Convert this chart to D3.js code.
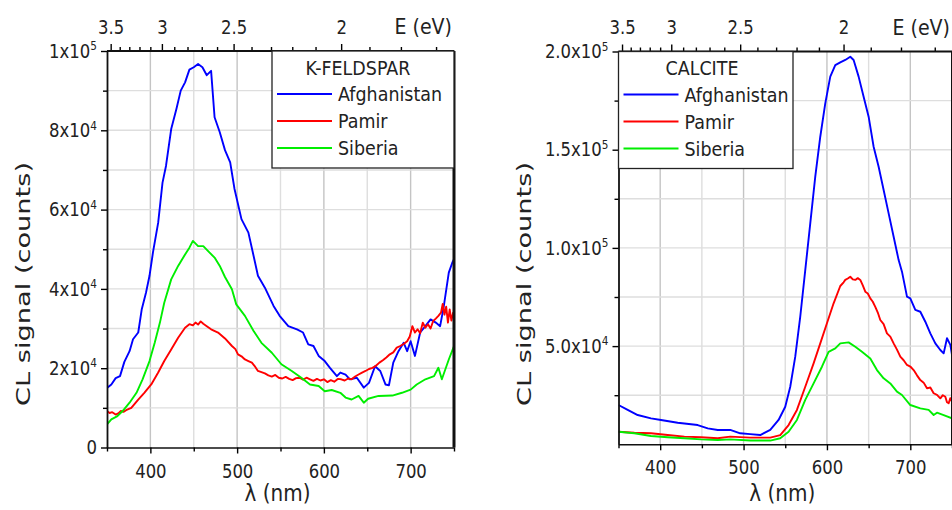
<!DOCTYPE html>
<html><head><meta charset="utf-8">
<script src="https://cdn.jsdelivr.net/npm/d3@7"></script>
<style>
html,body{margin:0;padding:0;background:#fff;}
svg{display:block;}
text{font-family:"DejaVu Sans",Verdana,sans-serif;fill:#222;}
</style></head><body>
<svg id="chart" width="952" height="510"></svg>
<script>
// ---------- data (wavelength nm, CL signal in 10^3 counts) ----------
const seriesNames = ["Afghanistan", "Pamir", "Siberia"];
const seriesColors = ["#0000ff", "#ff0000", "#00ee00"];

const lambdaMajor = [400, 500, 600, 700];
const lambdaMinor = [350, 450, 550, 650, 750];
const energyMajor = [3.5, 3, 2.5, 2];
const energyMinor = [3.4, 3.3, 3.2, 3.1, 2.9, 2.8, 2.7, 2.6, 2.4, 2.3, 2.2, 2.1, 1.9, 1.8, 1.7];

const kfYMajor = [0, 20000, 40000, 60000, 80000, 100000];
const kfYLabels = [["0", ""], ["2x10", "4"], ["4x10", "4"], ["6x10", "4"], ["8x10", "4"], ["1x10", "5"]];
const caYMajor = [50000, 100000, 150000, 200000];
const caYLabels = [["5.0x10", "4"], ["1.0x10", "5"], ["1.5x10", "5"], ["2.0x10", "5"]];

const kfAfghanistan = [[350,15.0],[355,15.9],[360,17.5],[365,18.0],[370,21.6],[376,24.3],[380,27.3],[386,29.0],[390,34.8],[395,39.1],[399,43.3],[403,49.2],[409,56.7],[414,66.8],[418,71.0],[424,80.3],[430,85.4],[435,90.0],[440,92.1],[445,95.3],[450,95.9],[455,96.7],[460,95.9],[465,93.9],[470,95.0],[474,83.3],[480,79.5],[486,75.0],[492,71.9],[497,65.2],[505,57.6],[513,54.2],[519,48.3],[524,43.3],[532,40.3],[542,35.7],[549,33.2],[559,30.6],[569,29.8],[576,29.0],[582,26.0],[588,25.6],[594,23.1],[601,21.8],[607,20.1],[615,18.0],[619,18.9],[625,18.4],[630,17.2],[638,17.6],[646,15.1],[652,16.3],[659,20.5],[665,19.3],[671,15.9],[675,15.7],[680,21.4],[686,24.3],[692,26.4],[696,24.3],[700,26.8],[705,23.1],[711,29.0],[717,30.6],[723,32.3],[729,31.5],[734,30.6],[738,35.3],[744,44.1],[748,46.6],[750,47.5]];

const kfPamir = [[350,9.2],[353,8.7],[356,8.9],[360,8.3],[363,8.6],[366,9.2],[369,9.0],[372,9.4],[378,10.0],[386,12.1],[393,13.8],[401,15.9],[409,18.9],[416,21.8],[424,24.7],[432,27.7],[440,30.2],[445,31.1],[449,30.8],[452,31.5],[455,31.0],[458,31.8],[461,31.2],[465,30.6],[470,29.8],[478,29.0],[486,27.5],[494,25.6],[498,24.8],[501,23.5],[505,23.0],[509,22.2],[513,21.8],[517,21.4],[520,20.6],[524,19.3],[528,19.0],[532,18.7],[536,18.2],[540,17.9],[544,18.3],[548,17.6],[552,17.4],[556,17.8],[560,17.3],[564,17.0],[568,17.5],[572,17.6],[576,17.1],[580,17.6],[584,17.2],[588,16.8],[592,17.3],[596,16.9],[600,17.2],[604,16.5],[608,17.0],[612,16.6],[616,17.3],[620,17.2],[624,16.9],[628,17.4],[632,17.2],[636,17.9],[640,18.4],[644,18.9],[648,19.3],[652,19.8],[656,20.1],[660,20.6],[664,21.4],[668,22.0],[672,22.7],[676,23.5],[680,24.0],[684,25.2],[688,25.6],[692,26.1],[696,26.8],[699,28.0],[702,30.6],[705,29.0],[708,29.8],[711,28.8],[714,31.5],[717,30.2],[720,31.1],[723,30.0],[726,31.9],[729,32.5],[732,33.2],[735,34.0],[737,36.2],[739,33.5],[741,35.5],[743,31.5],[745,34.8],[747,32.0],[749,34.0],[750,33.2]];

const kfSiberia = [[350,5.8],[355,7.1],[362,7.9],[368,9.2],[376,11.3],[384,13.8],[391,17.2],[399,21.8],[405,26.4],[411,31.5],[416,36.5],[424,42.4],[432,45.8],[440,48.7],[445,50.4],[449,52.1],[455,50.8],[461,50.8],[468,49.2],[474,47.9],[480,45.8],[486,43.0],[494,39.9],[499,36.1],[509,33.2],[519,29.4],[528,26.4],[540,23.9],[551,21.0],[563,19.3],[574,17.6],[584,15.9],[594,15.5],[601,14.2],[609,14.5],[619,13.8],[625,12.6],[632,12.1],[640,13.0],[646,11.3],[651,12.3],[663,13.0],[679,13.1],[690,13.8],[700,14.6],[707,15.9],[717,17.2],[727,18.0],[732,20.1],[736,17.2],[744,22.2],[750,25.6]];

const caAfghanistan = [[350,20.0],[361,17.5],[373,14.9],[389,13.2],[401,12.4],[421,11.0],[445,9.8],[457,8.1],[469,7.3],[484,7.3],[496,5.6],[508,5.2],[520,4.7],[532,7.3],[542,12.4],[550,19.1],[556,29.3],[562,44.6],[568,65.0],[574,88.7],[580,112.5],[586,136.3],[592,156.6],[598,173.6],[604,187.2],[610,193.1],[616,194.5],[622,195.7],[628,197.3],[632,195.7],[638,187.2],[644,177.0],[650,166.8],[656,151.5],[662,141.3],[668,129.5],[674,117.6],[680,105.7],[686,93.8],[690,87.9],[696,75.2],[700,74.3],[706,68.4],[712,67.5],[718,62.4],[724,56.5],[730,51.4],[736,48.0],[740,46.3],[744,54.0],[748,50.6],[750,45.5]];

const caPamir = [[350,6.4],[369,5.9],[389,5.6],[409,4.7],[429,3.9],[449,3.6],[469,3.1],[484,3.9],[508,3.4],[532,3.4],[544,4.7],[554,9.8],[564,17.5],[574,29.3],[584,41.2],[592,51.4],[600,61.6],[608,71.8],[616,80.6],[620,82.5],[622,83.7],[625,84.4],[628,85.3],[631,84.0],[634,83.7],[637,84.6],[640,83.7],[643,80.9],[646,77.7],[649,76.8],[652,74.3],[655,72.6],[658,70.0],[661,67.1],[664,63.3],[668,61.2],[672,56.5],[676,54.8],[680,51.4],[684,48.2],[688,44.6],[692,42.8],[696,40.4],[700,39.6],[704,37.8],[708,35.1],[712,32.7],[716,31.4],[720,28.5],[724,28.9],[728,26.0],[732,25.2],[736,23.4],[739,25.0],[742,24.2],[744,21.4],[746,20.9],[748,23.5],[750,21.7]];

const caSiberia = [[350,6.4],[369,5.6],[389,4.2],[409,3.6],[429,3.1],[449,2.5],[469,2.2],[484,2.5],[508,1.9],[532,1.9],[544,3.1],[554,6.4],[564,12.4],[574,22.6],[584,31.0],[594,39.5],[602,47.1],[610,48.8],[616,51.4],[626,51.9],[634,49.7],[642,47.1],[652,43.7],[660,37.8],[668,33.6],[676,31.0],[684,26.8],[690,25.1],[700,20.0],[712,18.3],[722,17.5],[728,14.9],[732,16.1],[740,14.9],[750,13.2]];

// ---------- drawing ----------
const svg = d3.select("#chart");
const HC = 1239.84;
const STRETCH = 1.15;

function drawPanel(p) {
  const g = svg.append("g");
  const x = d3.scaleLinear().domain([350, 750]).range([p.left, p.right]);
  const y = d3.scaleLinear().domain([0, p.yMax]).range([p.bottom, p.top]);

  // energy scale (nonlinear) for top axis
  const eScale = function (E) { return x(HC / E); };
  eScale.range = () => x.range();
  eScale.domain = () => [HC / 350, HC / 750];
  eScale.copy = () => eScale;

  // grid
  const vGrid = d3.range(400, 750, 50);
  g.append("g").selectAll("line").data(vGrid).join("line")
    .attr("x1", d => x(d)).attr("x2", d => x(d))
    .attr("y1", p.top).attr("y2", p.bottom)
    .attr("stroke", d => d % 100 === 0 ? "#c4c4c4" : "#dedede")
    .attr("stroke-width", 1.4);
  const hGrid = d3.range(p.yStep, p.yMax, p.yStep);
  g.append("g").selectAll("line").data(hGrid).join("line")
    .attr("x1", p.left).attr("x2", p.right)
    .attr("y1", d => y(d)).attr("y2", d => y(d))
    .attr("stroke", "#dedede").attr("stroke-width", 1.4);

  // curves
  const clipId = "clip" + p.id;
  svg.append("clipPath").attr("id", clipId).append("rect")
    .attr("x", p.left).attr("y", p.top)
    .attr("width", p.right - p.left).attr("height", p.bottom - p.top);
  const line = d3.line().x(d => x(d[0])).y(d => y(d[1] * 1000));
  g.append("g").attr("clip-path", `url(#${clipId})`)
    .selectAll("path").data(p.series).join("path")
    .attr("d", d => line(d)).attr("fill", "none")
    .attr("stroke", (d, i) => seriesColors[i]).attr("stroke-width", 1.9)
    .attr("stroke-linejoin", "round");

  // bottom axis
  const bx = g.append("g").attr("transform", `translate(0,${p.bottom})`)
    .call(d3.axisBottom(x).tickValues(lambdaMajor).tickSize(6).tickSizeOuter(0).tickPadding(11.5).tickFormat(d3.format("d")));
  bx.attr("font-size", 16.5);
  bx.select(".domain").attr("stroke", "#111").attr("stroke-width", 1.6);
  bx.selectAll(".tick line").attr("stroke-width", 1.4);
  bx.selectAll(".tick text").classed("st", true);
  g.append("g").attr("transform", `translate(0,${p.bottom})`)
    .call(d3.axisBottom(x).tickValues(lambdaMinor).tickSize(4).tickFormat(""))
    .call(a => a.select(".domain").remove())
    .selectAll(".tick line").attr("stroke-width", 1.4);

  // top axis (energy)
  const tx = g.append("g").attr("transform", `translate(0,${p.top})`)
    .call(d3.axisTop(eScale).tickValues(energyMajor).tickSize(7).tickSizeOuter(0).tickPadding(11).tickFormat(d => String(d)));
  tx.attr("font-size", 16.5);
  tx.select(".domain").remove();
  tx.selectAll(".tick line").attr("stroke-width", 1.4);
  tx.selectAll(".tick text").classed("st", true);
  g.append("g").attr("transform", `translate(0,${p.top})`)
    .call(d3.axisTop(eScale).tickValues(energyMinor).tickSize(4).tickFormat(""))
    .call(a => a.select(".domain").remove())
    .selectAll(".tick line").attr("stroke-width", 1.4);
  g.append("line").attr("x1", p.left).attr("x2", p.right)
    .attr("y1", p.top).attr("y2", p.top).attr("stroke", "#111").attr("stroke-width", 1.8);
  g.append("text").attr("class", "st").attr("x", p.right - 2).attr("y", p.top - 18)
    .attr("text-anchor", "end").attr("font-size", 19).text("E (eV)");

  // left axis
  const ly = g.append("g").attr("transform", `translate(${p.left},0)`)
    .call(d3.axisLeft(y).tickValues(p.yMajor).tickSize(6).tickSizeOuter(0).tickPadding(4).tickFormat(""));
  ly.attr("font-size", 16.5);
  ly.select(".domain").attr("stroke", "#111").attr("stroke-width", 1.8);
  ly.selectAll(".tick line").attr("stroke-width", 1.4);
  ly.selectAll(".tick text").classed("st", true).each(function (d, i) {
    const t = d3.select(this);
    const lab = p.yLabels[i];
    t.append("tspan").text(lab[0]);
    if (lab[1]) t.append("tspan").attr("dy", "-0.62em").attr("font-size", 10.5).text(lab[1]);
  });
  g.append("g").attr("transform", `translate(${p.left},0)`)
    .call(d3.axisLeft(y).tickValues(p.yMinor).tickSize(4).tickFormat(""))
    .call(a => a.select(".domain").remove())
    .selectAll(".tick line").attr("stroke-width", 1.4);

  // right border
  g.append("line").attr("x1", p.right).attr("x2", p.right)
    .attr("y1", p.top).attr("y2", p.bottom)
    .attr("stroke", "#111").attr("stroke-width", p.rightWidth);

  // axis titles
  g.append("text").attr("class", "st").attr("x", (p.left + p.right) / 2 - 3).attr("y", 500)
    .attr("text-anchor", "middle").attr("font-size", 20).text("λ (nm)");
  g.append("text").attr("transform", `translate(${p.yTitleX},284) rotate(-90)`)
    .attr("text-anchor", "middle").attr("dy", "0.35em").attr("font-size", 20)
    .attr("textLength", 244).attr("lengthAdjust", "spacingAndGlyphs")
    .text("CL signal (counts)");

  // legend
  const lg = g.append("g");
  lg.append("rect").attr("x", p.legX0).attr("y", p.top)
    .attr("width", p.legX1 - p.legX0).attr("height", 117)
    .attr("fill", "#fff").attr("stroke", "#222").attr("stroke-width", 1.3);
  lg.append("text").attr("class", "st").attr("x", p.legTitleX).attr("y", p.top + 23)
    .attr("text-anchor", "middle").attr("font-size", 17.5).text(p.title);
  seriesNames.forEach((name, i) => {
    const yy = p.top + 43 + i * 27;
    lg.append("line").attr("x1", p.legX0 + 5).attr("x2", p.legX0 + 60)
      .attr("y1", yy).attr("y2", yy).attr("stroke", seriesColors[i]).attr("stroke-width", 2);
    lg.append("text").attr("class", "st").attr("x", p.legX0 + 66).attr("y", yy + 6.5)
      .attr("font-size", 17.5).text(name);
  });
}

drawPanel({
  id: "kf", left: 107, right: 454, top: 51, bottom: 447.5,
  yMax: 100000, yStep: 10000, yMajor: kfYMajor, yLabels: kfYLabels,
  yMinor: [10000, 30000, 50000, 70000, 90000],
  series: [kfAfghanistan, kfPamir, kfSiberia],
  title: "K-FELDSPAR", legX0: 272, legX1: 454, legTitleX: 358,
  yTitleX: 23, rightWidth: 3
});
drawPanel({
  id: "ca", left: 618.5, right: 952, top: 51.5, bottom: 444.3,
  yMax: 200000, yStep: 25000, yMajor: caYMajor, yLabels: caYLabels,
  yMinor: [25000, 75000, 125000, 175000],
  series: [caAfghanistan, caPamir, caSiberia],
  title: "CALCITE", legX0: 618.5, legX1: 793, legTitleX: 702,
  yTitleX: 524, rightWidth: 2
});

// the source figure's lettering is slightly taller than wide: stretch glyphs vertically about their centre
svg.selectAll("text.st").each(function () {
  const b = this.getBBox();
  const cy = b.y + b.height / 2;
  d3.select(this).attr("transform", `translate(0,${cy * (1 - STRETCH)}) scale(1,${STRETCH})`);
});
</script>
</body></html>
